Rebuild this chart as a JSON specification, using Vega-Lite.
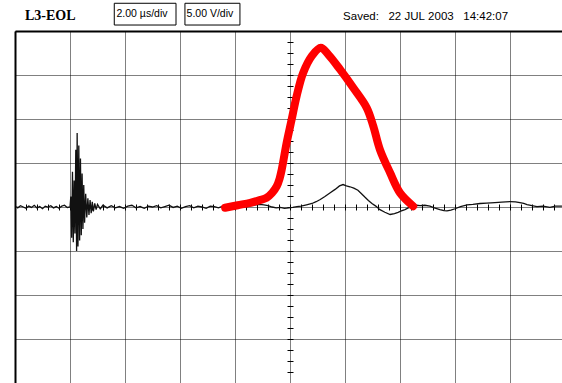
{
  "$schema": "https://vega.github.io/schema/vega-lite/v6.json",
  "width": 550,
  "height": 352,
  "autosize": {"type": "none"},
  "padding": {"left": 15, "top": 31, "right": 0, "bottom": 0},
  "background": "white",
  "config": {"view": {"stroke": null}},
  "datasets": {
    "trace": [
      {"t": 0.05, "v": 0.05}, {"t": 0.1, "v": -0.1}, {"t": 0.2, "v": 0.15}, {"t": 0.3, "v": 0}, {"t": 0.4, "v": -0.15},
      {"t": 0.5, "v": 0.1}, {"t": 0.6, "v": -0.05}, {"t": 0.7, "v": 0.2}, {"t": 0.8, "v": -0.1}, {"t": 0.9, "v": 0.05},
      {"t": 1.0, "v": -0.2}, {"t": 1.1, "v": 0.1}, {"t": 1.2, "v": 0}, {"t": 1.3, "v": 0.15}, {"t": 1.4, "v": -0.1},
      {"t": 1.5, "v": 0.05}, {"t": 1.6, "v": -0.15}, {"t": 1.7, "v": 0.1}, {"t": 1.8, "v": 0.2}, {"t": 1.9, "v": -0.05},
      {"t": 2.0, "v": 0}, {"t": 2.03, "v": 1.2}, {"t": 2.06, "v": -3.5}, {"t": 2.09, "v": 4.0}, {"t": 2.12, "v": -4.0},
      {"t": 2.15, "v": 3.0}, {"t": 2.18, "v": -3.0}, {"t": 2.21, "v": 6.5}, {"t": 2.24, "v": -5.0}, {"t": 2.26, "v": 8.4},
      {"t": 2.29, "v": -4.5}, {"t": 2.32, "v": 7.0}, {"t": 2.35, "v": -3.8}, {"t": 2.38, "v": 5.5}, {"t": 2.41, "v": -3.2},
      {"t": 2.44, "v": 3.8}, {"t": 2.47, "v": -2.5}, {"t": 2.5, "v": 2.5}, {"t": 2.53, "v": -1.8}, {"t": 2.57, "v": 1.5},
      {"t": 2.61, "v": -1.2}, {"t": 2.65, "v": 1.0}, {"t": 2.69, "v": -0.9}, {"t": 2.73, "v": 0.8}, {"t": 2.77, "v": -0.7},
      {"t": 2.81, "v": 0.6}, {"t": 2.85, "v": -0.5}, {"t": 2.9, "v": 0.4}, {"t": 2.95, "v": -0.3}, {"t": 3.0, "v": 0.3},
      {"t": 3.1, "v": -0.2}, {"t": 3.2, "v": 0.2}, {"t": 3.35, "v": -0.1}, {"t": 3.5, "v": 0.15}, {"t": 3.65, "v": -0.1},
      {"t": 3.8, "v": 0.05}, {"t": 3.95, "v": -0.15}, {"t": 4.1, "v": 0.1}, {"t": 4.25, "v": 0.2}, {"t": 4.4, "v": -0.1},
      {"t": 4.55, "v": 0.05}, {"t": 4.7, "v": -0.15}, {"t": 4.85, "v": 0.1}, {"t": 5.0, "v": 0}, {"t": 5.15, "v": 0.15},
      {"t": 5.3, "v": -0.1}, {"t": 5.45, "v": 0.05}, {"t": 5.6, "v": 0.2}, {"t": 5.75, "v": -0.05}, {"t": 5.9, "v": 0.1},
      {"t": 6.05, "v": -0.15}, {"t": 6.2, "v": 0.05}, {"t": 6.35, "v": 0.15}, {"t": 6.5, "v": -0.1}, {"t": 6.65, "v": 0.1},
      {"t": 6.8, "v": 0}, {"t": 6.95, "v": -0.15}, {"t": 7.1, "v": 0.1}, {"t": 7.25, "v": 0.05}, {"t": 7.4, "v": -0.1},
      {"t": 7.55, "v": 0.1}, {"t": 7.7, "v": 0}, {"t": 7.85, "v": 0.15}, {"t": 8.0, "v": -0.05}, {"t": 8.15, "v": 0.1},
      {"t": 8.3, "v": 0.2}, {"t": 8.45, "v": 0.05}, {"t": 8.6, "v": 0.15}, {"t": 8.75, "v": 0.25}, {"t": 8.9, "v": 0.3},
      {"t": 9.05, "v": 0.25}, {"t": 9.2, "v": 0.15}, {"t": 9.35, "v": 0}, {"t": 9.5, "v": -0.1}, {"t": 9.65, "v": -0.05},
      {"t": 9.8, "v": -0.15}, {"t": 9.95, "v": -0.1}, {"t": 10.1, "v": -0.05}, {"t": 10.25, "v": 0.05}, {"t": 10.4, "v": 0.1},
      {"t": 10.6, "v": 0.25}, {"t": 10.8, "v": 0.4}, {"t": 10.95, "v": 0.6}, {"t": 11.1, "v": 0.85}, {"t": 11.27, "v": 1.2},
      {"t": 11.45, "v": 1.6}, {"t": 11.64, "v": 2.0}, {"t": 11.8, "v": 2.4}, {"t": 11.93, "v": 2.55}, {"t": 12.05, "v": 2.4},
      {"t": 12.18, "v": 2.3}, {"t": 12.32, "v": 2.15}, {"t": 12.47, "v": 1.9}, {"t": 12.6, "v": 1.5}, {"t": 12.73, "v": 1.1},
      {"t": 12.85, "v": 0.75}, {"t": 12.98, "v": 0.4}, {"t": 13.12, "v": 0.1}, {"t": 13.27, "v": -0.3}, {"t": 13.45, "v": -0.6},
      {"t": 13.64, "v": -0.85}, {"t": 13.8, "v": -0.75}, {"t": 13.93, "v": -0.6}, {"t": 14.05, "v": -0.45}, {"t": 14.18, "v": -0.3},
      {"t": 14.3, "v": -0.1}, {"t": 14.44, "v": 0.05}, {"t": 14.6, "v": 0.2}, {"t": 14.73, "v": 0.15}, {"t": 14.9, "v": 0.2},
      {"t": 15.09, "v": 0.1}, {"t": 15.25, "v": -0.1}, {"t": 15.45, "v": -0.3}, {"t": 15.6, "v": -0.4}, {"t": 15.71, "v": -0.45},
      {"t": 15.85, "v": -0.35}, {"t": 16.0, "v": -0.2}, {"t": 16.2, "v": 0.05}, {"t": 16.44, "v": 0.25}, {"t": 16.65, "v": 0.3},
      {"t": 16.91, "v": 0.4}, {"t": 17.15, "v": 0.45}, {"t": 17.45, "v": 0.5}, {"t": 17.7, "v": 0.55}, {"t": 18.0, "v": 0.62},
      {"t": 18.2, "v": 0.58}, {"t": 18.36, "v": 0.5}, {"t": 18.5, "v": 0.4}, {"t": 18.62, "v": 0.28}, {"t": 18.8, "v": 0.15},
      {"t": 18.98, "v": 0.05}, {"t": 19.2, "v": 0.1}, {"t": 19.45, "v": -0.05}, {"t": 19.65, "v": 0.1}, {"t": 19.89, "v": 0.1}
    ],
    "probe": [
      {"t": 7.64, "v": -0.09}, {"t": 8.1, "v": 0.2}, {"t": 8.55, "v": 0.48}, {"t": 8.9, "v": 0.78}, {"t": 9.15, "v": 1.05},
      {"t": 9.35, "v": 1.6}, {"t": 9.52, "v": 2.36}, {"t": 9.62, "v": 3.2}, {"t": 9.7, "v": 4.26}, {"t": 9.88, "v": 7.33},
      {"t": 10.06, "v": 9.94}, {"t": 10.24, "v": 12.59}, {"t": 10.48, "v": 15.25}, {"t": 10.79, "v": 17.14}, {"t": 11.12, "v": 18.09},
      {"t": 11.39, "v": 17.33}, {"t": 11.82, "v": 15.63}, {"t": 12.3, "v": 13.55}, {"t": 12.79, "v": 11.27}, {"t": 13.03, "v": 9.18},
      {"t": 13.27, "v": 6.53}, {"t": 13.64, "v": 3.89}, {"t": 14.0, "v": 1.61}, {"t": 14.48, "v": 0.09}
    ],
    "labels": [
      {"t": 0.36, "v": 21.65, "text": "L3-EOL", "kind": "title"},
      {"t": 3.69, "v": 21.9, "text": "2.00 µs/div", "kind": "box"},
      {"t": 6.24, "v": 21.9, "text": "5.00 V/div", "kind": "box"},
      {"t": 11.93, "v": 21.6, "text": "Saved:\u00a0\u00a0 22\u00a0JUL\u00a02003\u00a0\u00a0 14:42:07", "kind": "saved"}
    ],
    "boxes": [
      {"t": 3.61, "t2": 5.855, "v": 23.15, "v2": 20.68},
      {"t": 6.18, "t2": 8.18, "v": 23.15, "v2": 20.68}
    ]
  },
  "resolve": {"axis": {"x": "independent", "y": "independent"}},
  "layer": [
    {
      "data": {"name": "trace"},
      "mark": {"type": "line", "color": "#111111", "strokeWidth": 1.3, "clip": true},
      "encoding": {
        "x": {"field": "t", "type": "quantitative",
              "scale": {"domain": [0, 20], "nice": false, "zero": false},
              "axis": {"orient": "top", "title": null, "labels": false, "ticks": false,
                       "values": [0, 2, 4, 6, 8, 10, 12, 14, 16, 18, 20],
                       "grid": true, "gridColor": "black", "gridDash": [1, 1], "gridWidth": 1, "gridOpacity": 1,
                       "domain": true, "domainColor": "black", "domainWidth": 2}},
        "y": {"field": "v", "type": "quantitative",
              "scale": {"domain": [-20, 20], "nice": false, "zero": false},
              "axis": {"orient": "left", "title": null, "labels": false, "ticks": false,
                       "values": [-20, -15, -10, -5, 0, 5, 10, 15, 20],
                       "grid": true, "gridColor": "black", "gridDash": [1, 1], "gridWidth": 1, "gridOpacity": 1,
                       "domain": true, "domainColor": "black", "domainWidth": 2}}
      }
    },
    {
      "data": {"name": "probe"},
      "mark": {"type": "line", "color": "#ff0000", "strokeWidth": 8, "strokeCap": "round", "strokeJoin": "round", "interpolate": "catmull-rom"},
      "encoding": {
        "x": {"field": "t", "type": "quantitative",
              "axis": {"orient": "bottom", "offset": -173, "title": null, "labels": false, "grid": false, "domain": false,
                       "ticks": true, "tickSize": -6, "tickColor": "black", "tickWidth": 1,
                       "values": [0.4, 0.8, 1.2, 1.6, 2.0, 2.4, 2.8, 3.2, 3.6, 4.0, 4.4, 4.8, 5.2, 5.6, 6.0, 6.4, 6.8, 7.2, 7.6, 8.0, 8.4, 8.8, 9.2, 9.6, 10.0, 10.4, 10.8, 11.2, 11.6, 12.0, 12.4, 12.8, 13.2, 13.6, 14.0, 14.4, 14.8, 15.2, 15.6, 16.0, 16.4, 16.8, 17.2, 17.6, 18.0, 18.4, 18.8, 19.2, 19.6]}},
        "y": {"field": "v", "type": "quantitative",
              "axis": {"orient": "right", "offset": -272, "title": null, "labels": false, "grid": false, "domain": false,
                       "ticks": true, "tickSize": -6, "tickColor": "black", "tickWidth": 1,
                       "values": [-18.75, -17.5, -16.25, -15, -13.75, -12.5, -11.25, -10, -8.75, -7.5, -6.25, -5, -3.75, -2.5, -1.25, 0, 1.25, 2.5, 3.75, 5, 6.25, 7.5, 8.75, 10, 11.25, 12.5, 13.75, 15, 16.25, 17.5, 18.75]}}
      }
    },
    {
      "data": {"name": "boxes"},
      "mark": {"type": "rect", "fill": "white", "stroke": "black", "strokeWidth": 1},
      "encoding": {
        "x": {"field": "t", "type": "quantitative", "axis": null},
        "x2": {"field": "t2"},
        "y": {"field": "v", "type": "quantitative", "axis": null},
        "y2": {"field": "v2"}
      }
    },
    {
      "data": {"name": "labels"},
      "transform": [{"filter": "datum.kind === 'title'"}],
      "mark": {"type": "text", "align": "left", "baseline": "middle", "font": "Liberation Serif", "fontWeight": "bold", "fontSize": 14, "color": "black"},
      "encoding": {
        "x": {"field": "t", "type": "quantitative", "axis": null},
        "y": {"field": "v", "type": "quantitative", "axis": null},
        "text": {"field": "text"}
      }
    },
    {
      "data": {"name": "labels"},
      "transform": [{"filter": "datum.kind !== 'title'"}],
      "mark": {"type": "text", "align": "left", "baseline": "middle", "font": "Liberation Sans", "fontSize": 11, "color": "black"},
      "encoding": {
        "x": {"field": "t", "type": "quantitative", "axis": null},
        "y": {"field": "v", "type": "quantitative", "axis": null},
        "text": {"field": "text"},
        "size": {"condition": {"test": "datum.kind === 'saved'", "value": 11.5}, "value": 10.5}
      }
    }
  ]
}
